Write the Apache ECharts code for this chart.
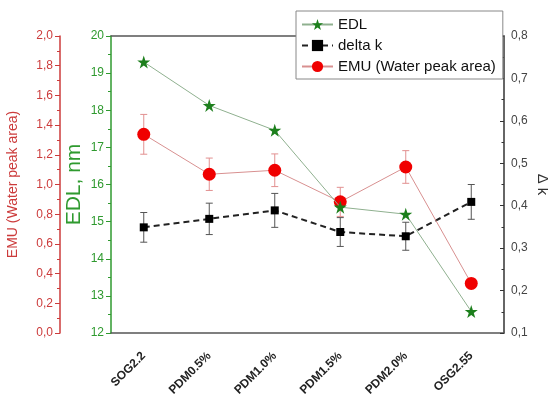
<!DOCTYPE html>
<html>
<head>
<meta charset="utf-8">
<script src="https://cdn.jsdelivr.net/npm/echarts@6/dist/echarts.min.js"></script>
<style>
  html, body { margin: 0; padding: 0; background: #fff; }
  #chart { width: 548px; height: 394px; }
</style>
</head>
<body>
<div id="chart"></div>
<script>
const categories = ['SOG2.2', 'PDM0.5%', 'PDM1.0%', 'PDM1.5%', 'PDM2.0%', 'OSG2.55'];
const edl = [19.3, 18.13, 17.46, 15.39, 15.2, 12.58];
const emu = [1.338, 1.069, 1.096, 0.883, 1.118, 0.334];
const emuErr = [0.134, 0.109, 0.11, 0.098, 0.11, 0.03];
const deltaK = [0.349, 0.369, 0.389, 0.338, 0.328, 0.409];
const deltaKErr = [0.035, 0.037, 0.04, 0.034, 0.033, 0.041];

const comma = v => v.toFixed(1).replace('.', ',');

// error bars via custom series
const errData = (vals, errs) => vals.map((v, i) => [i, v - errs[i], v + errs[i]]);
const errRender = color => (params, api) => {
    const x = api.value(0);
    const lo = api.coord([x, api.value(1)]);
    const hi = api.coord([x, api.value(2)]);
    const w = 3.5;
    const st = { stroke: color, lineWidth: 1 };
    return {
        type: 'group',
        children: [
            { type: 'line', shape: { x1: hi[0], y1: hi[1], x2: lo[0], y2: lo[1] }, style: st },
            { type: 'line', shape: { x1: hi[0] - w, y1: hi[1], x2: hi[0] + w, y2: hi[1] }, style: st },
            { type: 'line', shape: { x1: lo[0] - w, y1: lo[1], x2: lo[0] + w, y2: lo[1] }, style: st }
        ]
    };
};

const chart = echarts.init(document.getElementById('chart'));
const green = '#2f9a2f';
const red = '#cc3b3b';

const option = {
    animation: false,
    textStyle: { fontFamily: 'Liberation Sans, Arial, sans-serif' },
    grid: { left: 111, right: 44, top: 36, bottom: 61, containLabel: false, outerBoundsMode: 'none' },
    legend: {
        orient: 'vertical',
        left: 296,
        top: 11,
        padding: [6, 7, 5, 5],
        itemGap: 6,
        itemWidth: 31,
        itemHeight: 14,
        borderColor: '#888',
        borderWidth: 1,
        backgroundColor: '#fff',
        textStyle: { fontSize: 15, color: '#111' },
        data: ['EDL', 'delta k', 'EMU (Water peak area)']
    },
    xAxis: [
        {
            type: 'category',
            data: categories,
            axisLine: { lineStyle: { color: '#555', width: 1.5 } },
            axisTick: { alignWithLabel: true, length: 5, lineStyle: { color: '#555' } },
            axisLabel: { rotate: 45, margin: 21, fontSize: 12, fontWeight: 'bold', color: '#222' }
        },
        {
            type: 'category',
            position: 'top',
            data: categories,
            axisLine: { lineStyle: { color: '#555', width: 1.5 } },
            axisTick: { show: false },
            axisLabel: { show: false }
        }
    ],
    yAxis: [
        {
            type: 'value',
            min: 12, max: 20, interval: 1,
            name: 'EDL, nm',
            nameLocation: 'middle',
            nameGap: 26,
            nameMoveOverlap: false,
            nameTextStyle: { color: green, fontSize: 21 },
            axisLine: { show: true, lineStyle: { color: green, width: 1.5 } },
            axisTick: { show: true, length: 5, lineStyle: { color: green } },
            minorTick: { show: true, splitNumber: 2, length: 3, lineStyle: { color: green } },
            axisLabel: { color: green, fontSize: 12, margin: 7 },
            splitLine: { show: false }
        },
        {
            type: 'value',
            position: 'left',
            offset: 51,
            min: 0, max: 2, interval: 0.2,
            name: 'EMU (Water peak area)',
            nameLocation: 'middle',
            nameGap: 40,
            nameTextStyle: { color: red, fontSize: 14 },
            axisLine: { show: true, lineStyle: { color: red, width: 1.5 } },
            axisTick: { show: true, length: 5, lineStyle: { color: red } },
            minorTick: { show: true, splitNumber: 2, length: 3, lineStyle: { color: red } },
            axisLabel: { color: red, fontSize: 12, margin: 7, formatter: comma },
            splitLine: { show: false }
        },
        {
            type: 'value',
            position: 'right',
            min: 0.1, max: 0.8, interval: 0.1,
            name: 'Δ k',
            nameLocation: 'middle',
            nameGap: 31,
            nameRotate: -90,
            nameMoveOverlap: false,
            nameTextStyle: { color: '#333', fontSize: 15 },
            axisLine: { show: true, lineStyle: { color: '#333', width: 1.5 } },
            axisTick: { show: true, inside: true, length: 4, lineStyle: { color: '#333' } },
            minorTick: { show: true, splitNumber: 2, length: 2.5, lineStyle: { color: '#333' } },
            axisLabel: { color: '#444', fontSize: 12, margin: 7, formatter: comma },
            splitLine: { show: false }
        }
    ],
    series: [
        {
            type: 'custom',
            yAxisIndex: 1,
            renderItem: errRender('#e29090'),
            encode: { x: 0, y: [1, 2] },
            data: errData(emu, emuErr),
            z: 1
        },
        {
            type: 'custom',
            yAxisIndex: 2,
            renderItem: errRender('#555'),
            encode: { x: 0, y: [1, 2] },
            data: errData(deltaK, deltaKErr),
            z: 1
        },
        {
            name: 'EDL',
            type: 'line',
            yAxisIndex: 0,
            data: edl,
            symbol: 'path://M50,0 L61.8,35.3 L98.9,35.3 L68.9,57.2 L80.3,92.5 L50,70.6 L19.7,92.5 L31.1,57.2 L1.1,35.3 L38.2,35.3 Z',
            symbolSize: 13,
            itemStyle: { color: '#1c7f1c' },
            lineStyle: { color: '#8fb08f', width: 1 },
            z: 4
        },
        {
            name: 'delta k',
            type: 'line',
            yAxisIndex: 2,
            data: deltaK,
            symbol: 'rect',
            symbolSize: 8,
            itemStyle: { color: '#000' },
            lineStyle: { color: '#222', width: 2, type: [6, 4] },
            z: 3
        },
        {
            name: 'EMU (Water peak area)',
            type: 'line',
            yAxisIndex: 1,
            data: emu,
            symbol: 'circle',
            symbolSize: 13,
            itemStyle: { color: '#f00000' },
            lineStyle: { color: '#d89090', width: 1 },
            z: 3
        }
    ]
};
chart.setOption(option);
window.addEventListener('resize', () => chart.resize());
</script>
</body>
</html>
